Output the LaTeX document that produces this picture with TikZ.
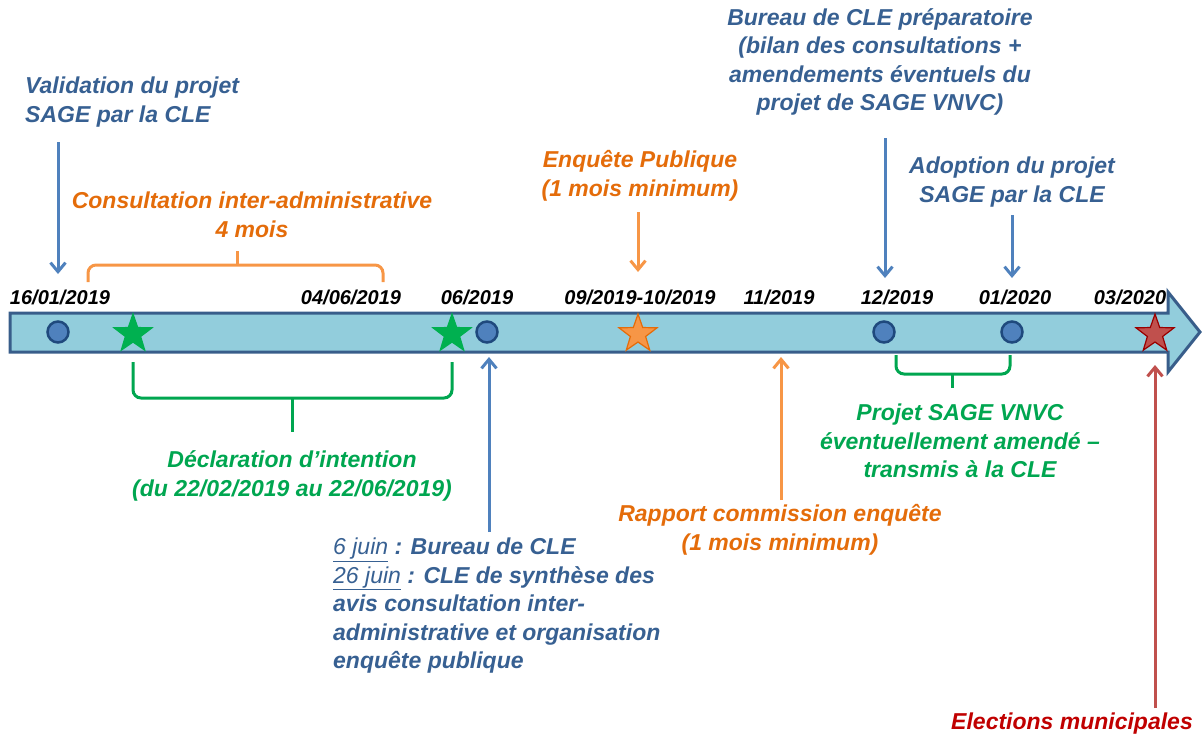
\documentclass[tikz,border=0pt]{standalone}
\usepackage{fontspec}
\setmainfont{Liberation Sans}
\usetikzlibrary{arrows.meta,shapes.geometric}
\definecolor{txtblue}{RGB}{55,96,146}
\definecolor{txtorange}{RGB}{228,108,10}
\definecolor{txtgreen}{RGB}{0,166,80}
\definecolor{txtred}{RGB}{192,0,0}
\definecolor{arrblue}{RGB}{79,129,189}
\definecolor{arrorange}{RGB}{247,150,70}
\definecolor{arrred}{RGB}{192,80,77}
\definecolor{barfill}{RGB}{146,205,220}
\definecolor{barline}{RGB}{56,93,138}
\definecolor{dotfill}{RGB}{79,129,189}
\definecolor{dotline}{RGB}{31,73,125}
\definecolor{stargreen}{RGB}{0,176,80}
\definecolor{starorange}{RGB}{247,150,70}
\definecolor{starred}{RGB}{192,80,77}
\tikzset{
  lbl/.style={inner sep=0pt, font=\fontsize{23}{28.5}\selectfont\bfseries\itshape, align=center},
  datelbl/.style={inner sep=0pt, font=\fontsize{20}{22}\selectfont\bfseries\itshape, text=black},
  arr/.style={line width=3pt, -{Straight Barb[length=9pt,width=15pt,line width=3pt]}},
  brace/.style={line width=3pt, rounded corners=8pt},
  dot/.style={circle, draw=dotline, fill=dotfill, line width=2.5pt, minimum size=21pt, inner sep=0pt},
  starmark/.style={star, star points=5, star point ratio=2.5, minimum size=40pt, inner sep=0pt, line width=1.2pt},
}
\begin{document}
\begin{tikzpicture}[x=1pt,y=-1pt]
\useasboundingbox (0,0) rectangle (1202,737);
% timeline bar
\draw[line width=3pt, draw=barline, fill=barfill, line join=miter]
  (10,313) -- (1168,313) -- (1168,292) -- (1200,332) -- (1168,372) -- (1168,352) -- (10,352) -- cycle;
% markers
\node[dot] (d1) at (58,332) {};
\node[dot] (d2) at (487,332) {};
\node[dot] (d3) at (884,332) {};
\node[dot] (d4) at (1012,332) {};
\node[starmark, fill=stargreen, draw=stargreen] (s1) at (133,334) {};
\node[starmark, fill=stargreen, draw=stargreen] (s2) at (452,334) {};
\node[starmark, fill=starorange, draw=txtorange] (s3) at (638,334) {};
\node[starmark, fill=starred, draw=txtred!80!black] (s4) at (1155,334) {};
% dates
\node[datelbl] (t1) at (60,297) {16/01/2019};
\node[datelbl] (t2) at (351,297) {04/06/2019};
\node[datelbl] (t3) at (477,297) {06/2019};
\node[datelbl] (t4) at (640,297) {09/2019-10/2019};
\node[datelbl] (t5) at (779,297) {11/2019};
\node[datelbl] (t6) at (897,297) {12/2019};
\node[datelbl] (t7) at (1015,297) {01/2020};
\node[datelbl] (t8) at (1130,297) {03/2020};
% top labels
\node[lbl, text=txtblue, anchor=west, align=left] (valid) at (25,102) {Validation du projet\\SAGE par la CLE};
\node[lbl, text=txtorange] (consult) at (252,215) {Consultation inter-administrative\\4 mois};
\node[lbl, text=txtorange] (enq) at (640,176) {Enquête Publique\\(1 mois minimum)};
\node[lbl, text=txtblue] (bureau) at (880,62) {Bureau de CLE préparatoire\\(bilan des consultations +\\amendements éventuels du\\projet de SAGE VNVC)};
\node[lbl, text=txtblue] (adopt) at (1012,182) {Adoption du projet\\SAGE par la CLE};
% bottom labels
\node[lbl, text=txtgreen] (decl) at (292,476) {Déclaration d’intention\\(du 22/02/2019 au 22/06/2019)};
\node[lbl, text=txtblue, anchor=west, align=left] (juin) at (333,606) {{\mdseries\underline{6 juin}} : Bureau de CLE\\{\mdseries\underline{26 juin}} : CLE de synthèse des\\avis consultation inter-\\administrative et organisation\\enquête publique};
\node[lbl, text=txtorange] (rapport) at (780,530) {Rapport commission enquête\\(1 mois minimum)};
\node[lbl, text=txtgreen] (projet) at (960,441) {Projet SAGE VNVC\\éventuellement amendé –\\transmis à la CLE};
\node[lbl, text=txtred, anchor=east] (elect) at (1193,724) {Elections municipales};
% connector end points
\coordinate (a1s) at (58,142);   \coordinate (a1e) at (58,274);
\coordinate (a2s) at (638,212);  \coordinate (a2e) at (638,272);
\coordinate (a3s) at (885,138);  \coordinate (a3e) at (885,278);
\coordinate (a4s) at (1012,215); \coordinate (a4e) at (1012,278);
\coordinate (a5s) at (489,532);  \coordinate (a5e) at (489,357);
\coordinate (a6s) at (781,500);  \coordinate (a6e) at (781,357);
\coordinate (a7s) at (1155,708); \coordinate (a7e) at (1155,365);
% arrows
\draw[arr, arrblue] (a1s) -- (a1e);
\draw[arr, arrorange] (a2s) -- (a2e);
\draw[arr, arrblue] (a3s) -- (a3e);
\draw[arr, arrblue] (a4s) -- (a4e);
\draw[arr, arrblue] (a5s) -- (a5e);
\draw[arr, arrorange] (a6s) -- (a6e);
\draw[arr, arrred] (a7s) -- (a7e);
% brackets
\draw[brace, arrorange] (88,282) -- (88,265) -- (383,265) -- (383,282);
\draw[brace, arrorange] (237,265) -- (237,251);
\draw[brace, txtgreen] (133,362) -- (133,398) -- (452,398) -- (452,362);
\draw[brace, txtgreen] (292,398) -- (292,432);
\draw[brace, txtgreen] (896,355) -- (896,374) -- (1010,374) -- (1010,355);
\draw[brace, txtgreen] (952,374) -- (952,388);
\end{tikzpicture}
\end{document}
